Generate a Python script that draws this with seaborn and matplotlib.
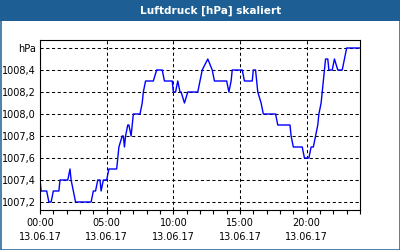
import matplotlib
matplotlib.use("Agg")
import matplotlib.pyplot as plt
import seaborn as sns
import pandas as pd
from matplotlib.patches import Rectangle

# ---- data ----
times = ["00:00", "00:05", "00:30", "00:40", "00:50", "01:00", "01:25", "01:30",
         "02:05", "02:15", "02:20", "02:30", "02:40", "03:50", "04:00", "04:10",
         "04:20", "04:30", "04:35", "04:45", "05:00", "05:10", "05:45", "05:50",
         "05:55", "06:10", "06:15", "06:20", "06:25", "06:35", "06:40", "06:50",
         "07:00", "07:30", "07:40", "07:45", "07:55", "08:30", "08:45", "09:10",
         "09:20", "09:55", "10:00", "10:10", "10:20", "10:30", "10:35", "10:50",
         "11:05", "11:50", "12:00", "12:10", "12:35", "12:55", "13:05", "14:00",
         "14:10", "14:20", "14:25", "15:10", "15:20", "15:55", "16:00", "16:10",
         "16:15", "16:20", "16:35", "16:45", "17:40", "17:50", "18:45", "18:50",
         "19:00", "19:40", "19:50", "20:10", "20:20", "20:30", "20:40", "20:50",
         "20:55", "21:05", "21:10", "21:15", "21:20", "21:25", "21:35", "21:40",
         "21:55", "22:05", "22:20", "22:40", "22:50", "23:00", "24:00"]
pressure = [1007.4, 1007.3, 1007.3, 1007.2, 1007.2, 1007.3, 1007.3, 1007.4,
            1007.4, 1007.5, 1007.4, 1007.3, 1007.2, 1007.2, 1007.3, 1007.3,
            1007.4, 1007.4, 1007.3, 1007.4, 1007.4, 1007.5, 1007.5, 1007.6,
            1007.7, 1007.8, 1007.8, 1007.7, 1007.8, 1007.9, 1007.9, 1007.8,
            1008.0, 1008.0, 1008.1, 1008.2, 1008.3, 1008.3, 1008.4, 1008.4,
            1008.3, 1008.3, 1008.2, 1008.2, 1008.3, 1008.2, 1008.2, 1008.1,
            1008.2, 1008.2, 1008.3, 1008.4, 1008.5, 1008.4, 1008.3, 1008.3,
            1008.2, 1008.3, 1008.4, 1008.4, 1008.3, 1008.3, 1008.4, 1008.4,
            1008.3, 1008.2, 1008.1, 1008.0, 1008.0, 1007.9, 1007.9, 1007.8,
            1007.7, 1007.7, 1007.6, 1007.6, 1007.7, 1007.7, 1007.8, 1007.9,
            1008.0, 1008.1, 1008.2, 1008.3, 1008.4, 1008.5, 1008.5, 1008.4,
            1008.4, 1008.5, 1008.4, 1008.4, 1008.5, 1008.6, 1008.6]
x_tick_hours = [0, 5, 10, 15, 20]
x_tick_labels = ["00:00\n13.06.17", "05:00\n13.06.17", "10:00\n13.06.17",
                 "15:00\n13.06.17", "20:00\n13.06.17"]
y_ticks = [1007.2, 1007.4, 1007.6, 1007.8, 1008.0, 1008.2, 1008.4, 1008.6]
y_tick_labels = ["1007,2", "1007,4", "1007,6", "1007,8", "1008,0", "1008,2",
                 "1008,4", "hPa"]
title = "Luftdruck [hPa] skaliert"

def to_hours(t):
    h, m = t.split(":")
    return int(h) + int(m) / 60.0

df = pd.DataFrame({"hour": [to_hours(t) for t in times], "hPa": pressure})

sns.set_style("white")
plt.rcParams["font.family"] = ["DejaVu Sans"]

BLUE = "#1d5f94"
fig = plt.figure(figsize=(4, 2.5), dpi=100, facecolor="white")
# title bar
fig.patches.append(Rectangle((0, 229 / 250), 1, 21 / 250, transform=fig.transFigure,
                             facecolor=BLUE, edgecolor="none", zorder=0))
# outer border
fig.patches.append(Rectangle((0.5 / 400, 0.5 / 250), 399 / 400, 249 / 250,
                             transform=fig.transFigure, facecolor="none",
                             edgecolor=BLUE, linewidth=1.1, zorder=1))
fig.text(211 / 400, 239.5 / 250, title, color="white", fontsize=7.6,
         fontweight="bold", ha="center", va="center")

ax = fig.add_axes([40 / 400, 40 / 250, 320 / 400, 170 / 250])
ax.set_facecolor("white")
sns.lineplot(data=df, x="hour", y="hPa", ax=ax, color="#0000ff", linewidth=1.0,
             estimator=None, sort=False)

ax.set_xlim(0, 24)
ax.set_ylim(1007.2 - 8 / 110, 1008.6 + 8 / 110)
ax.set_xticks(x_tick_hours)
ax.set_xticklabels(x_tick_labels, fontsize=7, linespacing=1.5)
ax.set_xticks(range(0, 25), minor=True)
ax.set_yticks(y_ticks)
ax.set_yticklabels(y_tick_labels, fontsize=7)
ax.set_xlabel("")
ax.set_ylabel("")
ax.tick_params(axis="x", which="both", direction="out", length=3, width=0.8,
               color="black", pad=2.5, bottom=True)
ax.tick_params(axis="y", which="both", length=0, pad=3)
for lab in ax.get_xticklabels() + ax.get_yticklabels():
    lab.set_color("black")

ax.grid(True, which="major", color="black", linestyle=(0, (3, 2.5)), linewidth=0.75)
for s in ax.spines.values():
    s.set_color("black")
    s.set_linewidth(0.8)
    s.set_visible(True)
ax.set_axisbelow(True)

fig.savefig("out.png", dpi=100, facecolor="white")
